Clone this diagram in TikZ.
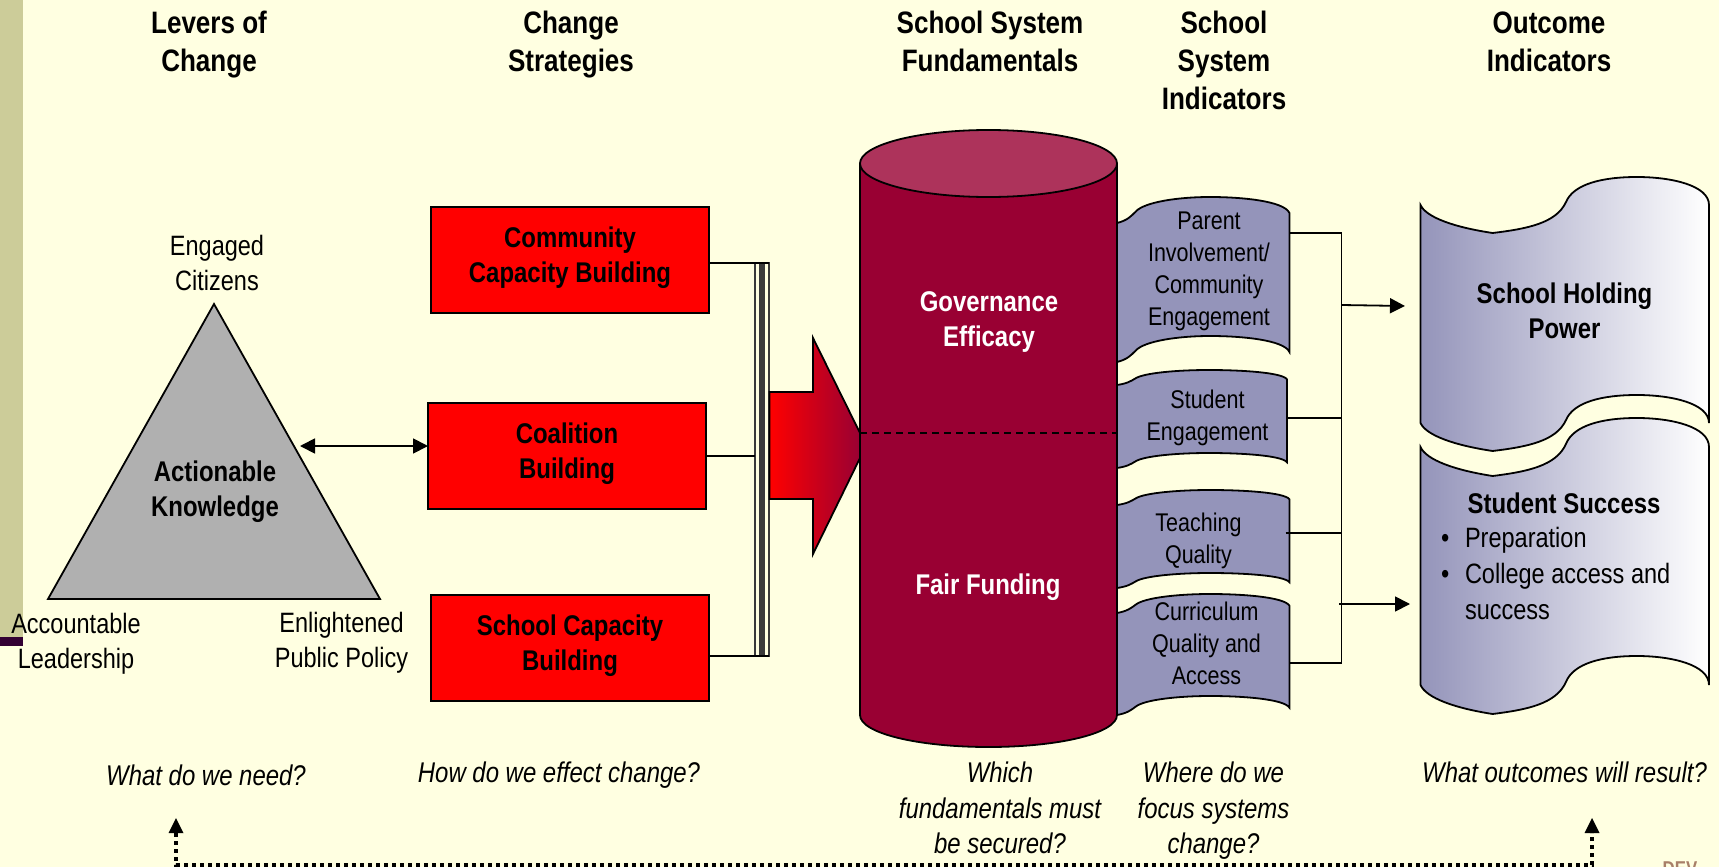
\documentclass[tikz,border=0pt]{standalone}
\usepackage{fontspec}
\setmainfont[FakeStretch=0.84]{Liberation Sans}
\usetikzlibrary{arrows.meta,positioning,calc}
\definecolor{paper}{HTML}{FFFFE1}
\definecolor{strip}{HTML}{CCCC99}
\definecolor{stripdark}{HTML}{330033}
\definecolor{maroon}{HTML}{990033}
\definecolor{maroontop}{HTML}{AD335B}
\definecolor{slate}{HTML}{9494BA}
\definecolor{barcolor}{HTML}{3A3A3A}
\definecolor{sealcolor}{HTML}{A87F68}
\tikzset{
    x=1pt,y=-1pt,>={Triangle[length=15pt,width=15pt]},
    every node/.style={inner sep=0pt,outer sep=0pt,align=center},
    heading/.style={font=\fontsize{31}{38}\selectfont\bfseries},
    boldtext/.style={font=\fontsize{28.5}{35}\selectfont\bfseries},
    plaintext/.style={font=\fontsize{28}{35}\selectfont},
    wavetext/.style={font=\fontsize{25.6}{32}\selectfont},
    question/.style={font=\fontsize{28.5}{35.5}\selectfont\itshape},
    redbox/.style={rectangle,draw,line width=2pt,fill=red,minimum width=278pt,minimum height=106pt,text depth=10pt,boldtext},
    outline/.style={draw,line width=1.8pt},
    wire/.style={line width=1.8pt},
    slatewave/.style={outline,fill=slate},
    shadedwave/.style={outline,left color=slate,right color=white},
    dashline/.style={line width=1.6pt,dash pattern=on 7pt off 5pt},
    dotline/.style={line width=4pt,dash pattern=on 4pt off 4pt}
}
% left, right, top edge y, height, rise
\newcommand{\smallwave}[5]{
  \pgfmathsetmacro{\wavew}{#2-#1}
  \path[slatewave] (#1,#3)
    .. controls ({#1+.06*\wavew},{#3-.1*#5}) and ({#1+.08*\wavew},{#3-.25*#5}) .. ({#1+.11*\wavew},{#3-.45*#5})
    .. controls ({#1+.16*\wavew},{#3-.8*#5}) and ({#1+.35*\wavew},{#3-#5}) .. ({#1+.54*\wavew},{#3-#5})
    .. controls ({#1+.72*\wavew},{#3-#5}) and ({#1+.97*\wavew},{#3-.85*#5}) .. (#2,{#3-.38*#5})
    -- (#2,{#3+#4-.38*#5})
    .. controls ({#1+.97*\wavew},{#3+#4-.85*#5}) and ({#1+.72*\wavew},{#3+#4-#5}) .. ({#1+.54*\wavew},{#3+#4-#5})
    .. controls ({#1+.35*\wavew},{#3+#4-#5}) and ({#1+.16*\wavew},{#3+#4-.8*#5}) .. ({#1+.11*\wavew},{#3+#4-.45*#5})
    .. controls ({#1+.08*\wavew},{#3+#4-.25*#5}) and ({#1+.06*\wavew},{#3+#4-.1*#5}) .. (#1,{#3+#4})
    -- cycle;
}
\newcommand{\bigwave}[5]{
  \pgfmathsetmacro{\wavew}{#2-#1}
  \path[shadedwave] (#1,#3)
    .. controls ({#1+.02*\wavew},{#3+.45*#5}) and ({#1+.12*\wavew},{#3+.8*#5}) .. ({#1+.25*\wavew},{#3+#5})
    .. controls ({#1+.37*\wavew},{#3+.85*#5}) and ({#1+.47*\wavew},{#3+.65*#5}) .. ({#1+.504*\wavew},{#3-.1*#5})
    .. controls ({#1+.53*\wavew},{#3-.75*#5}) and ({#1+.63*\wavew},{#3-#5}) .. ({#1+.75*\wavew},{#3-#5})
    .. controls ({#1+.87*\wavew},{#3-#5}) and (#2,{#3-.7*#5}) .. (#2,#3)
    -- (#2,{#3+#4})
    .. controls (#2,{#3+#4-.7*#5}) and ({#1+.87*\wavew},{#3+#4-#5}) .. ({#1+.75*\wavew},{#3+#4-#5})
    .. controls ({#1+.63*\wavew},{#3+#4-#5}) and ({#1+.53*\wavew},{#3+#4-.75*#5}) .. ({#1+.504*\wavew},{#3+#4-.1*#5})
    .. controls ({#1+.47*\wavew},{#3+#4+.65*#5}) and ({#1+.37*\wavew},{#3+#4+.85*#5}) .. ({#1+.25*\wavew},{#3+#4+#5})
    .. controls ({#1+.12*\wavew},{#3+#4+.8*#5}) and ({#1+.02*\wavew},{#3+#4+.45*#5}) .. (#1,{#3+#4})
    -- cycle;
}
\newcommand{\blt}{\makebox[24pt][l]{\textbullet}}
\begin{document}
\begin{tikzpicture}
    \useasboundingbox (0,0) rectangle (1719,867);
    \fill[paper] (0,0) rectangle (1719,867);
    \fill[strip] (0,0) rectangle (23,637);
    \fill[stripdark] (0,637) rectangle (23,646);

    % headings
    \node[heading] (levers) at (209,45) {Levers of\\Change};
    \node[heading] (strategies) at (571,45) {Change\\Strategies};
    \node[heading] (fundamentals) at (990,41.5) {School System\\Fundamentals};
    \node[heading] (indicators) at (1224,60) {School\\System\\Indicators};
    \node[heading] (outcomes) at (1549,42) {Outcome\\Indicators};

    % triangle
    \coordinate (apex) at (214,304);
    \coordinate (baseL) at (48,599);
    \coordinate (baseR) at (380,599);
    \coordinate (triSide) at (300,446);
    \draw[outline,fill=black!31] (apex) -- (baseL) -- (baseR) -- cycle;
    \node[boldtext] (knowledge) at (215,491.5) {Actionable\\Knowledge};
    \node[plaintext] (citizens) at (217,263) {Engaged\\Citizens};
    \node[plaintext] (leadership) at (76,643.5) {Accountable\\Leadership};
    \node[plaintext] (policy) at (341.5,642.5) {Enlightened\\Public Policy};

    % strategies
    \node[redbox] (community) at (570,260) {Community\\Capacity Building};
    \node[redbox] (coalition) at (567,456) {Coalition\\Building};
    \node[redbox] (capacity) at (570,648) {School Capacity\\Building};
    \draw[<->,wire] (triSide) -- (triSide -| coalition.west);

    \node[rectangle,draw=barcolor,line width=2pt,minimum width=13.5pt,minimum height=393pt] (bar) at (762,459.5) {};
    \draw[barcolor,line width=6pt] (bar.north) -- (bar.south);
    \draw[wire] (community.east |- bar.north east) -- (bar.north east);
    \draw[wire] (coalition.east) -- (coalition.east -| bar.west);
    \draw[wire] (capacity.east |- bar.south east) -- (bar.south east);

    % fat arrow
    \coordinate (tipTop) at (860,433);
    \coordinate (tipBottom) at (860,458);
    \draw[outline,left color=red,right color=maroon] (769.5,392) -- (813,392) -- (813,338) -- (tipTop) -- (tipBottom) -- (813,554) -- (813,499) -- (769.5,499) -- cycle;

    % indicator boxes
    \smallwave{1117}{1289.5}{223}{139}{26}
    \smallwave{1117}{1287}{385}{83}{15}
    \smallwave{1117}{1289.5}{505}{83}{15}
    \smallwave{1117}{1289.5}{613}{102}{19}
    \node[wavetext] (parent) at (1209,271) {Parent\\Involvement/\\Community\\Engagement};
    \node[wavetext] (engagement) at (1207.5,418) {Student\\Engagement};
    \node[wavetext] (teaching) at (1198.5,541) {Teaching\\Quality};
    \node[wavetext] (curriculum) at (1206.5,643) {Curriculum\\Quality and\\Access};

    % cylinder
    \coordinate (cylRight) at (1117,433);
    \path[outline,fill=maroon] (860,163.5) -- (860,715) .. controls (860,733) and (917,747) .. (988.5,747)
      .. controls (1060,747) and (1117,733) .. (1117,715) -- (1117,163.5) -- cycle;
    \draw[outline,fill=maroontop] (988.5,163.5) ellipse [x radius=128.5,y radius=33.5];
    \draw[dashline] (tipTop) -- (cylRight);
    \node[boldtext,white] (governance) at (989,322.5) {Governance\\Efficacy};
    \node[boldtext,white] (funding) at (988,587) {Fair Funding};

    % wiring to the outcomes
    \coordinate (railTop) at (1341.5,233);
    \coordinate (railBottom) at (1341.5,663);
    \draw[wire] (1289.5,233) -- (railTop) -- (railBottom) -- (1289.5,663);
    \draw[wire] (1287,418) -- (1341.5,418);
    \draw[wire] (1285.5,533) -- (1341.5,533);

    % outcomes
    \bigwave{1420.5}{1709}{205}{218}{28}
    \bigwave{1420.5}{1709}{447}{238}{29}
    \node[boldtext] (holding) at (1564.5,311) {School Holding\\Power};
    \node[boldtext] (success) at (1564,503) {Student Success};
    \node[plaintext,align=left,anchor=north west,font=\fontsize{28}{36}\selectfont] (bullets) at (1441,527.5) {\blt Preparation\\\blt College access and\\\hspace*{24pt}success};
    \draw[->,wire] (1341.5,305) -- (1405,306);
    \draw[->,wire] (1339,604) -- (1410,604);

    % questions
    \node[question] (need) at (206,775) {What do we need?};
    \node[question] (effect) at (559,775) {How do we effect change?};
    \node[question] (secured) at (1000,808) {Which\\fundamentals must\\be secured?};
    \node[question] (focus) at (1213.5,811) {Where do we\\focus systems\\change?};
    \node[question] (result) at (1564.5,772) {What outcomes will result?};

    % feedback loop
    \coordinate (loopL) at (176,833);
    \coordinate (loopR) at (1592,833);
    \draw[dotline] (loopL) -- (176,865) -- (1592,865) -- (loopR);
    \fill (loopL) ++(-7.5,0) -- ++(15,0) -- ++(-7.5,-15) -- cycle;
    \fill (loopR) ++(-7.5,0) -- ++(15,0) -- ++(-7.5,-15) -- cycle;

    \node[sealcolor,font=\fontsize{20}{20}\selectfont\bfseries,anchor=base] (seal) at (1680,875) {DEV};
\end{tikzpicture}
\end{document}
